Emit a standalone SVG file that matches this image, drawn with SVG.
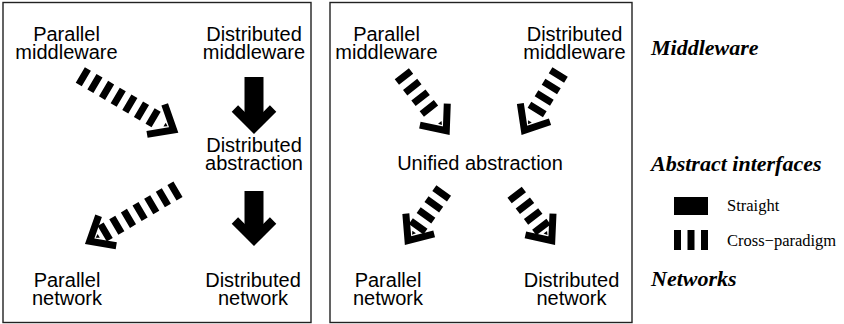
<svg xmlns="http://www.w3.org/2000/svg" xmlns:xlink="http://www.w3.org/1999/xlink" width="844" height="324" viewBox="0 0 844 324">
  <style>
    .frame { fill: none; stroke: #222; stroke-width: 1.4; }
    .lbl { font-family: "Liberation Sans", Arial, Helvetica, sans-serif; font-size: 20px; text-anchor: middle; fill: #000; }
    .layer { font-family: "Liberation Serif", "Times New Roman", serif; font-size: 22px; font-weight: bold; font-style: italic; fill: #000; }
    .leg { font-family: "Liberation Serif", "Times New Roman", serif; font-size: 16.5px; fill: #000; }
    .dash { stroke: #000; stroke-width: 18; stroke-dasharray: 7 6.5; fill: none; }
    .solid { stroke: #000; stroke-width: 19; fill: none; }
    .chev { stroke: #000; stroke-width: 7; fill: none; stroke-linejoin: miter; stroke-miterlimit: 10; }
    .chevS { stroke: #000; stroke-width: 9; fill: none; stroke-linejoin: miter; stroke-miterlimit: 10; }
  </style>
  <defs>
    <g id="headD">
      <polyline class="chev" points="-26.1,-17.4 -5.45,0 -26.1,17.4"/>
      <polygon points="-12.5,0 -16,-2.2 -16,2.2" fill="#000"/>
    </g>
    <g id="headS">
      <polyline class="chevS" points="-25.5,-19.1 -6.36,0 -25.5,19.1"/>
    </g>
  </defs>

  <rect id="panel-left" class="frame" x="3" y="2.5" width="308" height="320"/>
  <rect id="panel-right" class="frame" x="330" y="2.5" width="302" height="320"/>

  <g id="connectors">
    <g id="a-pm-da" transform="translate(80.3,74.9) rotate(30.5)">
      <line class="dash" x1="0" y1="0" x2="88" y2="0"/>
      <use xlink:href="#headD" href="#headD" transform="translate(113.8,0)"/>
    </g>
    <g id="a-da-pn" transform="translate(178,189.2) rotate(149.5)">
      <line class="dash" x1="0" y1="0" x2="88" y2="0"/>
      <use xlink:href="#headD" href="#headD" transform="translate(108,0)"/>
    </g>
    <g id="a-dm-da" transform="translate(254,77) rotate(90)">
      <line class="solid" x1="0" y1="0" x2="46" y2="0"/>
      <use xlink:href="#headS" href="#headS" transform="translate(57,0)"/>
    </g>
    <g id="a-da-dn" transform="translate(254,191) rotate(90)">
      <line class="solid" x1="0" y1="0" x2="44" y2="0"/>
      <use xlink:href="#headS" href="#headS" transform="translate(55,0)"/>
    </g>
    <g id="a-pm-ua" transform="translate(401.8,73.7) rotate(52)">
      <line class="dash" x1="0" y1="0" x2="47.5" y2="0"/>
      <use xlink:href="#headD" href="#headD" transform="translate(77.7,0)"/>
    </g>
    <g id="a-dm-ua" transform="translate(560.1,72) rotate(121.5)">
      <line class="dash" x1="0" y1="0" x2="47.5" y2="0"/>
      <use xlink:href="#headD" href="#headD" transform="translate(73.8,0)"/>
    </g>
    <g id="a-ua-pn" transform="translate(443.7,190.5) rotate(125.5)">
      <line class="dash" x1="0" y1="0" x2="47.5" y2="0"/>
      <use xlink:href="#headD" href="#headD" transform="translate(66.9,0)"/>
    </g>
    <g id="a-ua-dn" transform="translate(514.6,192.2) rotate(52.5)">
      <line class="dash" x1="0" y1="0" x2="47.5" y2="0"/>
      <use xlink:href="#headD" href="#headD" transform="translate(66.5,0)"/>
    </g>
  </g>

  <g id="l-parallel-middleware"><text class="lbl" x="66.5" y="41">Parallel<tspan x="66.5" dy="18">middleware</tspan></text></g>
  <g id="l-distributed-middleware"><text class="lbl" x="254" y="41">Distributed<tspan x="254" dy="18">middleware</tspan></text></g>
  <g id="l-distributed-abstraction"><text class="lbl" x="254" y="152">Distributed<tspan x="254" dy="18">abstraction</tspan></text></g>
  <g id="l-parallel-network"><text class="lbl" x="67" y="287">Parallel<tspan x="67" dy="18">network</tspan></text></g>
  <g id="l-distributed-network"><text class="lbl" x="253" y="287">Distributed<tspan x="253" dy="18">network</tspan></text></g>

  <g id="r-parallel-middleware"><text class="lbl" x="386.5" y="41">Parallel<tspan x="386.5" dy="18">middleware</tspan></text></g>
  <g id="r-distributed-middleware"><text class="lbl" x="574.5" y="41">Distributed<tspan x="574.5" dy="18">middleware</tspan></text></g>
  <g id="r-unified-abstraction"><text class="lbl" x="480" y="170">Unified abstraction</text></g>
  <g id="r-parallel-network"><text class="lbl" x="388" y="287">Parallel<tspan x="388" dy="18">network</tspan></text></g>
  <g id="r-distributed-network"><text class="lbl" x="571.5" y="287">Distributed<tspan x="571.5" dy="18">network</tspan></text></g>

  <g id="layers">
    <text class="layer" x="651" y="55">Middleware</text>
    <text class="layer" x="651" y="171">Abstract interfaces</text>
    <text class="layer" x="651" y="286">Networks</text>
  </g>

  <g id="legend">
    <rect x="674" y="197" width="34" height="18" fill="#000"/>
    <text class="leg" x="727" y="211">Straight</text>
    <rect x="674" y="230" width="7" height="20" fill="#000"/>
    <rect x="687.5" y="230" width="7" height="20" fill="#000"/>
    <rect x="701" y="230" width="7" height="20" fill="#000"/>
    <text class="leg" x="727" y="246">Cross−paradigm</text>
  </g>
</svg>
